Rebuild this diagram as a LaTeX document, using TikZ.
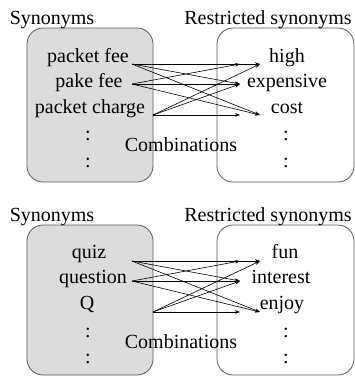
\documentclass[tikz,border=0pt]{standalone}
\usepackage{fontspec}
\setmainfont{Liberation Serif}
\usetikzlibrary{arrows.meta}
\definecolor{boxline}{HTML}{5A5A5A}
\definecolor{boxfill}{HTML}{DCDCDC}
\begin{document}
\begin{tikzpicture}[x=1pt,y=-1pt,
  lbl/.style={font=\fontsize{20}{24}\selectfont, inner sep=0pt, anchor=base},
  panel/.style={draw=boxline, line width=0.8pt, rounded corners=16pt},
  link/.style={line width=0.6pt, -{Stealth[length=5pt,width=3.6pt]}}]
\useasboundingbox (0,0) rectangle (355,376);

% ---------- upper panel ----------
\draw[panel, fill=boxfill] (27,28) rectangle (153,182);
\draw[panel, fill=white] (217,28) rectangle (354,182);
\node[lbl] (syA) at (52,24) {Synonyms};
\node[lbl] (rsA) at (268,24) {Restricted synonyms};
\node[lbl] (a1) at (88,62) {packet fee};
\node[lbl] (a2) at (89,87) {pake fee};
\node[lbl] (a3) at (90,113) {packet charge};
\node[lbl] (ad1) at (88,140) {:};
\node[lbl] (ad2) at (88,167) {:};
\node[lbl] (b1) at (287,62) {high};
\node[lbl] (b2) at (287,87) {expensive};
\node[lbl] (b3) at (287,113) {cost};
\node[lbl] (bd1) at (286,140) {:};
\node[lbl] (bd2) at (286,167) {:};
\node[lbl] (cmA) at (181,151) {Combinations};
\coordinate (sa1) at (132,64);
\coordinate (sa2) at (132,84);
\coordinate (sa3) at (153,115);
\coordinate (ha1) at (240,64);
\coordinate (ha2) at (260,64);
\coordinate (ea) at (240,84);
\coordinate (ca1) at (240,115);
\coordinate (ca2) at (260,115);
\draw[link] (sa1) -- (ha2);
\draw[link] (sa1) -- (ea);
\draw[link] (sa1) -- (ca2);
\draw[link] (sa2) -- (ha1);
\draw[link] (sa2) -- (ea);
\draw[link] (sa2) -- (ca2);
\draw[link] (sa3) -- (ca1);
\draw[link] (sa3) -- (ea);
\draw[link] (sa3) -- (ha2);

% ---------- lower panel ----------
\draw[panel, fill=boxfill] (27,225) rectangle (153,375);
\draw[panel, fill=white] (217,225) rectangle (354,375);
\node[lbl] (syB) at (52,221) {Synonyms};
\node[lbl] (rsB) at (268,221) {Restricted synonyms};
\node[lbl] (c1) at (89,258) {quiz};
\node[lbl] (c2) at (93,283) {question};
\node[lbl] (c3) at (87,309) {Q};
\node[lbl] (cd1) at (88,337) {:};
\node[lbl] (cd2) at (88,363) {:};
\node[lbl] (d1) at (285,258) {fun};
\node[lbl] (d2) at (281,283) {interest};
\node[lbl] (d3) at (282,309) {enjoy};
\node[lbl] (dd1) at (286,337) {:};
\node[lbl] (dd2) at (286,363) {:};
\node[lbl] (cmB) at (181,348) {Combinations};
\coordinate (sb1) at (132,261);
\coordinate (sb2) at (132,281);
\coordinate (sb3) at (153,312);
\coordinate (hb1) at (240,261);
\coordinate (hb2) at (260,261);
\coordinate (eb) at (240,281);
\coordinate (cb1) at (240,312);
\coordinate (cb2) at (260,312);
\draw[link] (sb1) -- (hb2);
\draw[link] (sb1) -- (eb);
\draw[link] (sb1) -- (cb2);
\draw[link] (sb2) -- (hb1);
\draw[link] (sb2) -- (eb);
\draw[link] (sb2) -- (cb2);
\draw[link] (sb3) -- (cb1);
\draw[link] (sb3) -- (eb);
\draw[link] (sb3) -- (hb2);
\end{tikzpicture}
\end{document}
